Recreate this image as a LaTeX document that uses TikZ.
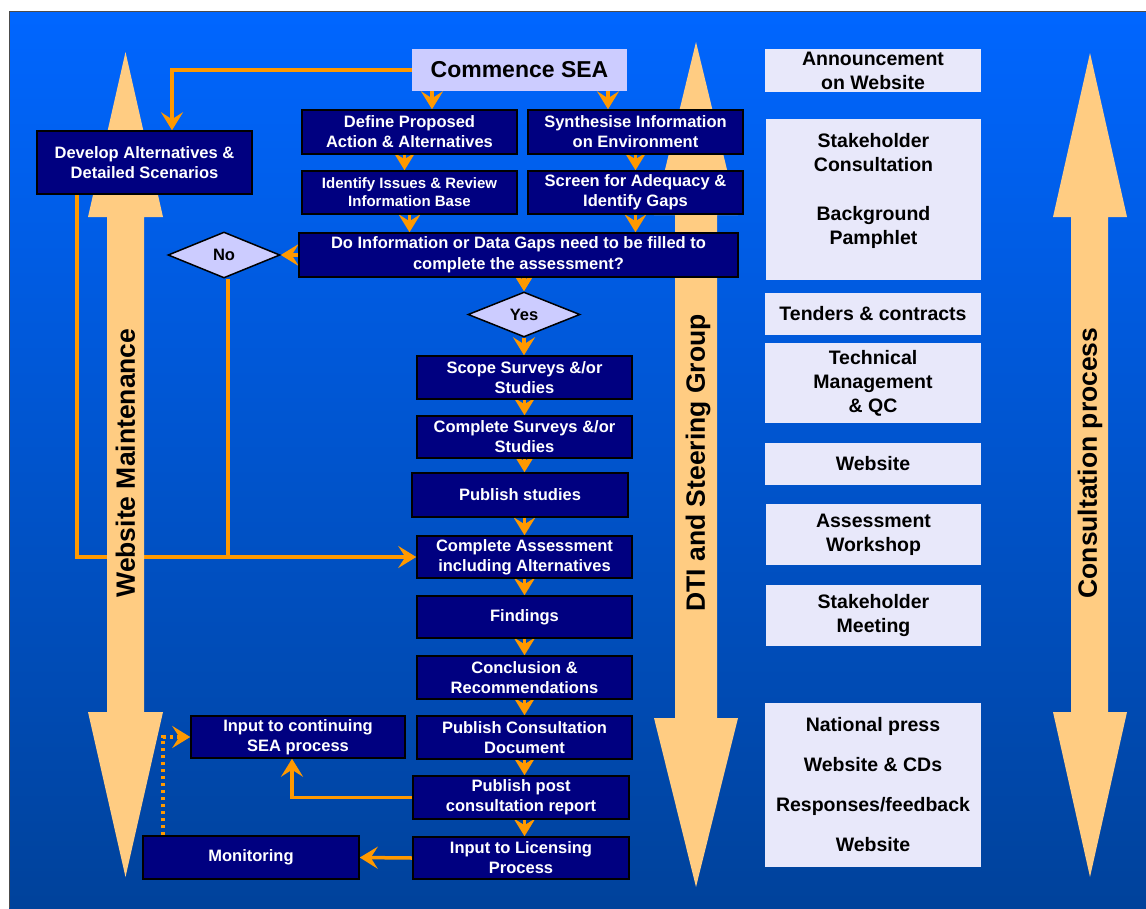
\documentclass[tikz,border=0pt]{standalone}
\usepackage{fontspec}
\setmainfont{Liberation Sans}
\usetikzlibrary{arrows.meta,shapes.geometric,calc}
\definecolor{navy}{RGB}{0,0,128}
\definecolor{lav}{RGB}{204,204,255}
\definecolor{pale}{RGB}{232,232,250}
\definecolor{orng}{RGB}{255,153,0}
\definecolor{bigarr}{RGB}{255,204,130}
\definecolor{bgtop}{RGB}{0,102,255}
\definecolor{bgbot}{RGB}{0,66,155}
\pgfdeclarelayer{bg}\pgfdeclarelayer{conn}\pgfdeclarelayer{arr}
\pgfsetlayers{bg,conn,arr,main}
\begin{document}
\begin{tikzpicture}[x=1pt,y=-1pt,
  navybox/.style={draw=black,line width=1.5pt,fill=navy,text=white,
    font=\fontsize{16.5}{20}\selectfont\bfseries,align=center,inner sep=0pt},
  smallnavy/.style={navybox,font=\fontsize{15}{18}\selectfont\bfseries},
  dia/.style={diamond,aspect=2.4,draw=black,line width=1.5pt,fill=lav,inner sep=0pt,
    font=\fontsize{16.5}{20}\selectfont\bfseries},
  rbox/.style={fill=pale,text=black,font=\fontsize{19.5}{24}\selectfont\bfseries,
    align=center,inner sep=0pt},
  bigtext/.style={font=\fontsize{26.5}{30}\selectfont\bfseries,text=black,rotate=90,inner sep=0pt},
  conn/.style={draw=orng,line width=3.5pt,-{Stealth[length=18pt,width=22pt,inset=7pt]}},
  plainline/.style={draw=orng,line width=3.5pt},
  dotline/.style={draw=orng,line width=3.5pt,dash pattern=on 3.5pt off 3.5pt,
    -{Stealth[length=18pt,width=22pt,inset=7pt]}},
  bigarrow/.style={fill=bigarr}
]
\useasboundingbox (0,0) rectangle (1146,908);
\begin{pgfonlayer}{bg}
  \fill[white] (0,0) rectangle (1146,908);
  \shade[top color=bgtop,bottom color=bgbot] (9,11) rectangle (1146,908);
  \draw[black!70,line width=1pt] (9,908) -- (9,11) -- (1146,11);
\end{pgfonlayer}

% big double-headed arrows
\begin{pgfonlayer}{arr}
  \fill[bigarrow] (125.5,52) -- (163,217) -- (144,217) -- (144,712) -- (163,712) -- (125.5,877)
    -- (88,712) -- (107,712) -- (107,217) -- (88,217) -- cycle;
  \fill[bigarrow] (696,42) -- (738,215) -- (717,215) -- (717,718) -- (738,718) -- (696,887)
    -- (654,718) -- (675,718) -- (675,215) -- (654,215) -- cycle;
  \fill[bigarrow] (1090,53) -- (1127,217) -- (1108,217) -- (1108,712) -- (1127,712) -- (1090,877)
    -- (1053,712) -- (1071,712) -- (1071,217) -- (1053,217) -- cycle;
  \node[bigtext] (wm) at (125.5,463) {Website Maintenance};
  \node[bigtext] (dti) at (698,463) {DTI and Steering Group};
  \node[bigtext] (cp) at (1090,463) {Consultation process};
\end{pgfonlayer}

% main flow
\node[fill=lav,font=\fontsize{23}{27}\selectfont\bfseries,inner sep=0pt,
  minimum width=215pt,minimum height=42pt] (commence) at (519.5,70) {Commence SEA};
\node[navybox,minimum width=215pt,minimum height=63pt] (dev) at (144.5,162.5) {Develop Alternatives \&\\Detailed Scenarios};
\node[navybox,minimum width=215pt,minimum height=44pt] (define) at (409.5,132) {Define Proposed\\Action \& Alternatives};
\node[navybox,minimum width=215pt,minimum height=44pt] (synth) at (635.5,132) {Synthesise Information\\on Environment};
\node[smallnavy,minimum width=215pt,minimum height=43pt] (ident) at (409.5,192.5) {Identify Issues \& Review\\Information Base};
\node[navybox,minimum width=215pt,minimum height=43pt] (screen) at (635.5,192.5) {Screen for Adequacy \&\\Identify Gaps};
\node[navybox,font=\fontsize{16.5}{21}\selectfont\bfseries,minimum width=439pt,minimum height=44pt] (doinfo) at (518.5,255) {Do Information or Data Gaps need to be filled to\\complete the assessment?};
\node[dia,minimum width=112pt,minimum height=46pt] (no) at (224,255) {No};
\node[dia,minimum width=112pt,minimum height=45pt] (yes) at (524,314.5) {Yes};
\node[navybox,minimum width=215pt,minimum height=43pt] (scope) at (524.5,377.5) {Scope Surveys \&/or\\Studies};
\node[navybox,minimum width=215pt,minimum height=42pt] (compsurv) at (524.5,437) {Complete Surveys \&/or\\Studies};
\node[navybox,minimum width=216pt,minimum height=44pt] (pubstud) at (520,495) {Publish studies};
\node[navybox,minimum width=215pt,minimum height=42pt] (compass) at (524.5,557) {Complete Assessment\\including Alternatives};
\node[navybox,minimum width=215pt,minimum height=42pt] (findings) at (524.5,617) {Findings};
\node[navybox,minimum width=215pt,minimum height=43pt] (concl) at (524.5,677.5) {Conclusion \&\\Recommendations};
\node[navybox,minimum width=215pt,minimum height=43pt] (pubcons) at (524.5,737.5) {Publish Consultation\\Document};
\node[navybox,minimum width=216pt,minimum height=43pt] (pubpost) at (521,797.5) {Publish post\\consultation report};
\node[navybox,minimum width=216pt,minimum height=42pt] (inlic) at (521,858) {Input to Licensing\\Process};
\node[navybox,minimum width=214pt,minimum height=42pt] (inputsea) at (298,737) {Input to continuing\\SEA process};
\node[navybox,minimum width=216pt,minimum height=43pt] (monitor) at (251,857.5) {Monitoring};

% right column
\node[rbox,minimum width=216pt,minimum height=43pt] (ann) at (873,70.5) {Announcement\\on Website};
\node[rbox,minimum width=215pt,minimum height=161pt] (stake) at (873.5,199.5) {Stakeholder\\Consultation\\[25pt]Background\\Pamphlet\rule[-22pt]{0pt}{0pt}};
\node[rbox,minimum width=216pt,minimum height=42pt] (tenders) at (873,314) {Tenders \& contracts};
\node[rbox,minimum width=216pt,minimum height=80pt] (tech) at (873,383) {Technical\\Management\\\& QC};
\node[rbox,minimum width=216pt,minimum height=42pt] (web) at (873,464) {Website};
\node[rbox,minimum width=215pt,minimum height=61pt] (assess) at (873.5,534.5) {Assessment\\Workshop};
\node[rbox,minimum width=215pt,minimum height=61pt] (smeet) at (873.5,615.5) {Stakeholder\\Meeting};
\node[rbox,minimum width=216pt,minimum height=164pt] (press) at (873,785) {National press\\[16pt]Website \& CDs\\[16pt]Responses/feedback\\[16pt]Website};

% connectors
\begin{pgfonlayer}{conn}
  \draw[conn] (commence.west) -| ([xshift=27.5pt]dev.north);
  \draw[conn] ([xshift=-87.5pt]commence.south) -- ([xshift=-87.5pt]commence.south |- define.north);
  \draw[conn] ([xshift=88.5pt]commence.south) -- ([xshift=88.5pt]commence.south |- synth.north);
  \draw[conn] ([xshift=-5pt]define.south) -- ([xshift=-5pt]define.south |- ident.north);
  \draw[conn] (synth.south) -- (screen.north);
  \draw[conn] (ident.south) -- (ident.south |- doinfo.north);
  \draw[conn] (screen.south) -- (screen.south |- doinfo.north);
  \draw[conn] (doinfo.west) -- (no.east);
  \draw[conn] (yes.north |- doinfo.south) -- (yes.north);
  \draw[conn] (yes.south) -- (yes.south |- scope.north);
  \draw[conn] (scope.south) -- (compsurv.north);
  \draw[conn] (compsurv.south) -- (compsurv.south |- pubstud.north);
  \draw[conn] (compass.north |- pubstud.south) -- (compass.north);
  \draw[conn] (compass.south) -- (findings.north);
  \draw[conn] (findings.south) -- (concl.north);
  \draw[conn] (concl.south) -- (pubcons.north);
  \draw[conn] (pubcons.south) -- (pubcons.south |- pubpost.north);
  \draw[conn] (pubcons.south |- pubpost.south) -- (pubcons.south |- inlic.north);
  \draw[conn] ([xshift=-67.5pt]dev.south) |- (compass.west);
  \draw[plainline] ([xshift=4pt]no.south) -- ([xshift=4pt]no.south |- compass.west);
  \draw[conn] (pubpost.west) -| ([xshift=-6pt]inputsea.south);
  \draw[conn] (inlic.west) -- (monitor.east);
  \draw[dotline] ([xshift=-88pt]monitor.north) |- (inputsea.west);
\end{pgfonlayer}
\end{tikzpicture}
\end{document}
